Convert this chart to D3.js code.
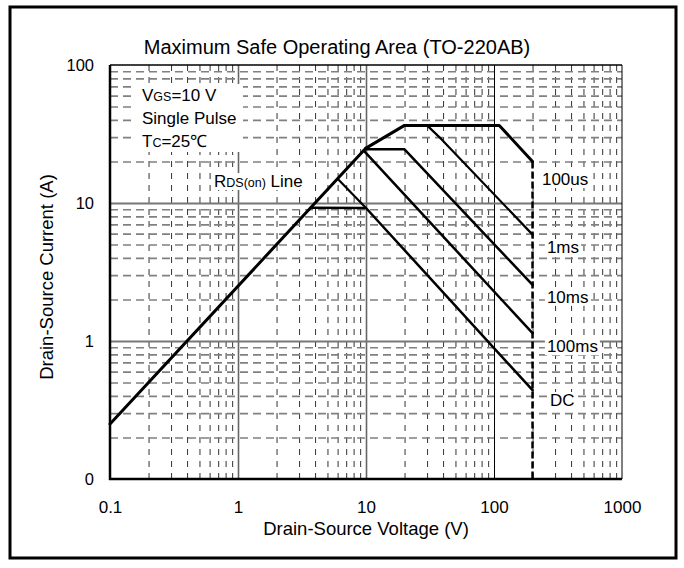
<!DOCTYPE html>
<html><head><meta charset="utf-8">
<script src="https://cdn.jsdelivr.net/npm/d3@7"></script>
<style>body{margin:0;background:#fff} svg{display:block} text{font-family:"Liberation Sans",Arial,Helvetica,sans-serif;fill:#000}</style>
</head><body><svg id="c" width="684" height="568"></svg>
<script>
// ---------- data ----------
const xTickValues = [0.1, 1, 10, 100, 1000];
const xTickLabels = ["0.1", "1", "10", "100", "1000"];
const yTickValues = [0.1, 1, 10, 100];
const yTickLabels = ["0", "1", "10", "100"];
const gridMultipliers = [2, 3, 4, 5, 6, 7, 8, 9];

const rdsOnLine   = [[0.1, 0.25], [10, 25]];
const curve100us  = [[10, 25], [20, 36.5], [110, 36.5], [200, 20]];
const curve1ms    = [[30, 36.5], [39, 28.9], [200, 5.9]];
const curve10ms   = [[10, 24.5], [20, 24.5], [200, 2.55]];
const curve100ms  = [[9.6, 24], [200, 1.14]];
const curveDC     = [[3.7, 9.25], [10, 9.2], [200, 0.44]];
const curveDCpeak = [[6, 15], [10, 9.2]];
const vdsLimit    = [[200, 20], [200, 0.1]];

const curveLabels = ["100us", "1ms", "10ms", "100ms", "DC"];
const curveLabelV = [237, 259, 259, 259, 274];
const curveLabelI = [13.5, 4.34, 1.89, 0.83, 0.338];

const titleText = "Maximum Safe Operating Area (TO-220AB)";
const xTitle = "Drain-Source Voltage (V)";
const yTitle = "Drain-Source Current (A)";

// ---------- layout ----------
const svg = d3.select("#c");
const L = 110, R = 622, T = 65, B = 479;
const x = d3.scaleLog().domain([0.1, 1000]).range([L, R]);
const y = d3.scaleLog().domain([0.1, 100]).range([B, T]);

svg.append("rect").attr("x", 10).attr("y", 7).attr("width", 666).attr("height", 551)
  .attr("fill", "#fff").attr("stroke", "#000").attr("stroke-width", 3);

// minor grid values
const minorX = [], minorY = [];
[0.1, 1, 10, 100].forEach(d => gridMultipliers.forEach(k => { minorX.push(+(d * k).toPrecision(3)); }));
[0.1, 1, 10].forEach(d => gridMultipliers.forEach(k => { minorY.push(+(d * k).toPrecision(3)); }));

// minor vertical grid
const gvx = svg.append("g").attr("transform", `translate(0,${B})`)
  .call(d3.axisBottom(x).tickValues(minorX).tickSize(-(B - T)).tickFormat(""));
gvx.select(".domain").remove();
gvx.selectAll("line").attr("stroke", "#333").attr("stroke-width", 1).attr("stroke-dasharray", "6,6");

// minor horizontal grid
const ghy = svg.append("g").attr("transform", `translate(${L},0)`)
  .call(d3.axisLeft(y).tickValues(minorY).tickSize(-(R - L)).tickFormat(""));
ghy.select(".domain").remove();
ghy.selectAll("line").attr("stroke", "#808080").attr("stroke-width", 1.6).attr("stroke-dasharray", "8,5");

// major grid
const gmx = svg.append("g").attr("transform", `translate(0,${B})`)
  .call(d3.axisBottom(x).tickValues([1, 10, 100]).tickSize(-(B - T)).tickFormat(""));
gmx.select(".domain").remove();
gmx.selectAll("line").attr("stroke", d => d === 100 ? "#000" : "#666").attr("stroke-width", d => d === 100 ? 1 : 1.6);
const gmy = svg.append("g").attr("transform", `translate(${L},0)`)
  .call(d3.axisLeft(y).tickValues([1, 10]).tickSize(-(R - L)).tickFormat(""));
gmy.select(".domain").remove();
gmy.selectAll("line").attr("stroke", "#777").attr("stroke-width", 2);

// axes labels
const ax = svg.append("g").attr("transform", `translate(0,${B})`)
  .call(d3.axisBottom(x).tickValues(xTickValues).tickSize(0).tickPadding(22)
    .tickFormat((d, i) => xTickLabels[i]));
ax.select(".domain").remove();
ax.selectAll("text").attr("font-size", 17).attr("font-family", '"Liberation Sans",Arial,sans-serif').attr("fill", "#000");

const ay = svg.append("g").attr("transform", `translate(${L},0)`)
  .call(d3.axisLeft(y).tickValues(yTickValues).tickSize(0).tickPadding(16)
    .tickFormat((d, i) => yTickLabels[i]));
ay.select(".domain").remove();
ay.selectAll("text").attr("font-size", 16.5).attr("font-family", '"Liberation Sans",Arial,sans-serif').attr("fill", "#000");

// plot frame
svg.append("line").attr("x1", L).attr("x2", R).attr("y1", T).attr("y2", T).attr("stroke", "#000").attr("stroke-width", 1.5);
svg.append("line").attr("x1", R).attr("x2", R).attr("y1", T).attr("y2", B).attr("stroke", "#000").attr("stroke-width", 1);
svg.append("line").attr("x1", L).attr("x2", L).attr("y1", T).attr("y2", B + 1).attr("stroke", "#000").attr("stroke-width", 2.5);
svg.append("line").attr("x1", L - 1).attr("x2", R).attr("y1", B).attr("y2", B).attr("stroke", "#000").attr("stroke-width", 2.5);

// annotation box
const ann = svg.append("g");
const annBg = ann.append("rect").attr("fill", "#fff");
const t1 = ann.append("text").attr("x", 142).attr("y", 101).attr("font-size", 17);
t1.append("tspan").text("V");
t1.append("tspan").attr("font-size", 12.5).text("GS");
t1.append("tspan").text("=10 V");
ann.append("text").attr("x", 142).attr("y", 124).attr("font-size", 17).text("Single Pulse");
const t3 = ann.append("text").attr("x", 142).attr("y", 147).attr("font-size", 17);
t3.append("tspan").text("T");
t3.append("tspan").attr("font-size", 12.5).text("C");
t3.append("tspan").text("=25℃");
annBg.attr("x", 135).attr("y", 84).attr("width", 108).attr("height", 68);

const rl = svg.append("text").attr("x", 214).attr("y", 187).attr("font-size", 17);
rl.append("tspan").text("R");
rl.append("tspan").attr("font-size", 12.5).text("DS(on)");
rl.append("tspan").text(" Line");
{
  const bb = rl.node().getBBox();
  svg.insert("rect", () => rl.node()).attr("x", bb.x - 1).attr("y", bb.y + 1).attr("width", bb.width + 2).attr("height", bb.height - 2).attr("fill", "#fff");
}

// curves
const line = d3.line().x(d => x(d[0])).y(d => y(d[1]));
const curves = [
  [rdsOnLine, 3], [curve100us, 3], [curve1ms, 2.2], [curve10ms, 2.5],
  [curve100ms, 2.5], [curveDC, 2.5], [curveDCpeak, 2.2]
];
curves.forEach(([data, w]) => {
  svg.append("path").attr("d", line(data)).attr("fill", "none").attr("stroke", "#000")
    .attr("stroke-width", w).attr("stroke-linejoin", "round").attr("stroke-linecap", "round");
});
svg.append("path").attr("d", line(vdsLimit)).attr("fill", "none").attr("stroke", "#000")
  .attr("stroke-width", 2.5).attr("stroke-dasharray", "7,3");

// curve labels
curveLabels.forEach((lab, i) => {
  const t = svg.append("text").attr("x", x(curveLabelV[i])).attr("y", y(curveLabelI[i]))
    .attr("font-size", 17).text(lab);
  const bb = t.node().getBBox();
  svg.insert("rect", () => t.node()).attr("x", bb.x - 2).attr("y", bb.y + 1).attr("width", bb.width + 4).attr("height", bb.height - 2).attr("fill", "#fff");
});

// titles
svg.append("text").attr("x", 337).attr("y", 54).attr("text-anchor", "middle").attr("font-size", 20).text(titleText);
svg.append("text").attr("x", 366).attr("y", 535).attr("text-anchor", "middle").attr("font-size", 18.5).text(xTitle);
svg.append("text").attr("transform", "translate(53,277) rotate(-90)").attr("text-anchor", "middle").attr("font-size", 18.5).text(yTitle);
</script></body></html>
